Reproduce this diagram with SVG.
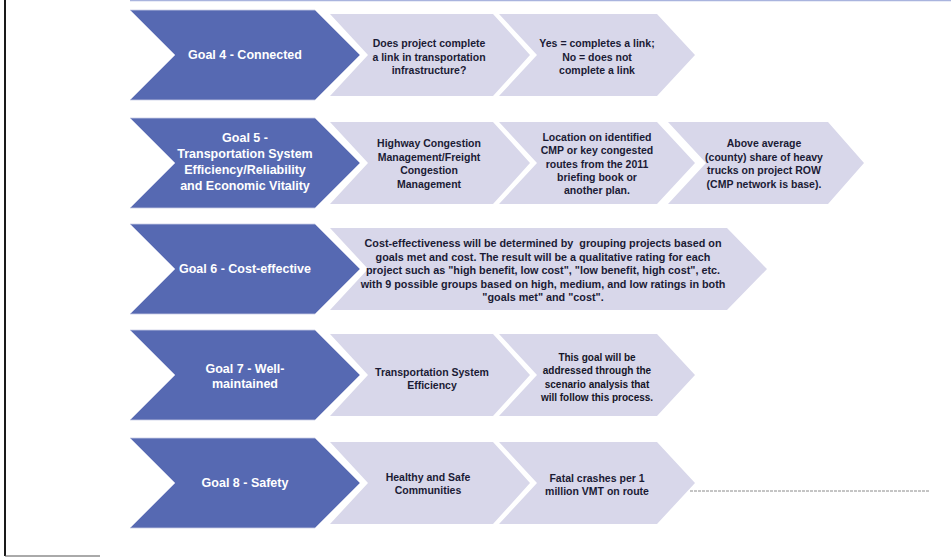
<svg xmlns="http://www.w3.org/2000/svg" width="951" height="558" viewBox="0 0 951 558">
<style>
.goal{fill:#5669b2;stroke:#c9cde6;stroke-width:0.8}
.step{fill:#d8d7ea;stroke:none}
.gt{font-family:"Liberation Sans",Arial,sans-serif;font-weight:bold;font-size:12.5px;fill:#ffffff;text-anchor:middle;dominant-baseline:central}
.st{font-family:"Liberation Sans",Arial,sans-serif;font-weight:bold;font-size:10.5px;fill:#1b1b35;text-anchor:middle;dominant-baseline:central}
.sm{font-size:10.8px}
.sn{font-size:10px;fill:#151528}
</style>
<rect width="951" height="558" fill="#ffffff"/>
<g id="frame">
<line x1="5" y1="0" x2="5" y2="556" stroke="#1a1a1a" stroke-width="2"/>
<line x1="5" y1="556" x2="100" y2="556" stroke="#555" stroke-width="1"/>
<line x1="130" y1="0.5" x2="951" y2="0.5" stroke="#a9b4de" stroke-width="1.5"/>
</g>

<g id="goal4">
<polygon class="goal" points="130,10 315,10 360,55 315,100 130,100 175,55"/>
<text class="gt" x="245" y="55">Goal 4 - Connected</text>
</g>
<g id="goal4-q">
<polygon class="step" points="330,14 493,14 530,55 493,96 330,96 368,55"/>
<text class="st"><tspan x="429" y="43">Does project complete</tspan><tspan x="429" y="56.5">a link in transportation</tspan><tspan x="429" y="70">infrastructure?</tspan></text>
</g>
<g id="goal4-m">
<polygon class="step" points="499,14 657,14 695,55 657,96 499,96 537,55"/>
<text class="st"><tspan x="597" y="43">Yes = completes a link;</tspan><tspan x="597" y="56.5">No = does not</tspan><tspan x="597" y="70">complete a link</tspan></text>
</g>

<g id="goal5">
<polygon class="goal" points="130,118 315,118 360,163 315,208 130,208 175,163"/>
<text class="gt"><tspan x="245" y="138">Goal 5 -</tspan><tspan x="245" y="154">Transportation System</tspan><tspan x="245" y="170">Efficiency/Reliability</tspan><tspan x="245" y="186">and Economic Vitality</tspan></text>
</g>
<g id="goal5-q">
<polygon class="step" points="330,122 493,122 530,163 493,204 330,204 368,163"/>
<text class="st"><tspan x="429" y="143">Highway Congestion</tspan><tspan x="429" y="156.5">Management/Freight</tspan><tspan x="429" y="170">Congestion</tspan><tspan x="429" y="183.5">Management</tspan></text>
</g>
<g id="goal5-m">
<polygon class="step" points="499,122 657,122 695,163 657,204 499,204 537,163"/>
<text class="st"><tspan x="597" y="137">Location on identified</tspan><tspan x="597" y="150">CMP or key congested</tspan><tspan x="597" y="163.5">routes from the 2011</tspan><tspan x="597" y="177">briefing book or</tspan><tspan x="597" y="190">another plan.</tspan></text>
</g>
<g id="goal5-m2">
<polygon class="step" points="668,122 828,122 864,163 828,204 668,204 706,163"/>
<text class="st"><tspan x="764" y="143">Above average</tspan><tspan x="764" y="156.5">(county) share of heavy</tspan><tspan x="764" y="170">trucks on project ROW</tspan><tspan x="764" y="183.5">(CMP network is base).</tspan></text>
</g>

<g id="goal6">
<polygon class="goal" points="130,224 315,224 360,269 315,314 130,314 175,269"/>
<text class="gt" x="245" y="269">Goal 6 - Cost-effective</text>
</g>
<g id="goal6-m">
<polygon class="step" points="330,228 727,228 767,269 727,310 330,310 368,269"/>
<text class="st sm"><tspan x="543" y="243" xml:space="preserve">Cost-effectiveness will be determined by  grouping projects based on</tspan><tspan x="543" y="256.5">goals met and cost. The result will be a qualitative rating for each</tspan><tspan x="543" y="270">project such as "high benefit, low cost", "low benefit, high cost", etc.</tspan><tspan x="543" y="283.5">with 9 possible groups based on high, medium, and low ratings in both</tspan><tspan x="543" y="297">"goals met" and "cost".</tspan></text>
</g>

<g id="goal7">
<polygon class="goal" points="130,330 315,330 360,375 315,420 130,420 175,375"/>
<text class="gt"><tspan x="245" y="369">Goal 7 - Well-</tspan><tspan x="245" y="384">maintained</tspan></text>
</g>
<g id="goal7-q">
<polygon class="step" points="330,334 493,334 530,375 493,416 330,416 368,375"/>
<text class="st"><tspan x="432" y="372">Transportation System</tspan><tspan x="432" y="385">Efficiency</tspan></text>
</g>
<g id="goal7-m">
<polygon class="step" points="499,334 657,334 695,375 657,416 499,416 537,375"/>
<text class="st sn"><tspan x="597" y="357">This goal will be</tspan><tspan x="597" y="370">addressed through the</tspan><tspan x="597" y="383.5">scenario analysis that</tspan><tspan x="597" y="397">will follow this process.</tspan></text>
</g>

<g id="goal8">
<polygon class="goal" points="130,438 315,438 360,483 315,528 130,528 175,483"/>
<text class="gt" x="245" y="483">Goal 8 - Safety</text>
</g>
<g id="goal8-q">
<polygon class="step" points="330,442 493,442 530,483 493,524 330,524 368,483"/>
<text class="st"><tspan x="428" y="477">Healthy and Safe</tspan><tspan x="428" y="490">Communities</tspan></text>
</g>
<g id="goal8-m">
<polygon class="step" points="499,442 657,442 695,483 657,524 499,524 537,483"/>
<text class="st"><tspan x="597" y="478">Fatal crashes per 1</tspan><tspan x="597" y="491">million VMT on route</tspan></text>
</g>

<g id="connectors">
<line x1="690" y1="491" x2="930" y2="491" stroke="#8a8a8a" stroke-width="1" stroke-dasharray="3,1"/>
</g>
</svg>
